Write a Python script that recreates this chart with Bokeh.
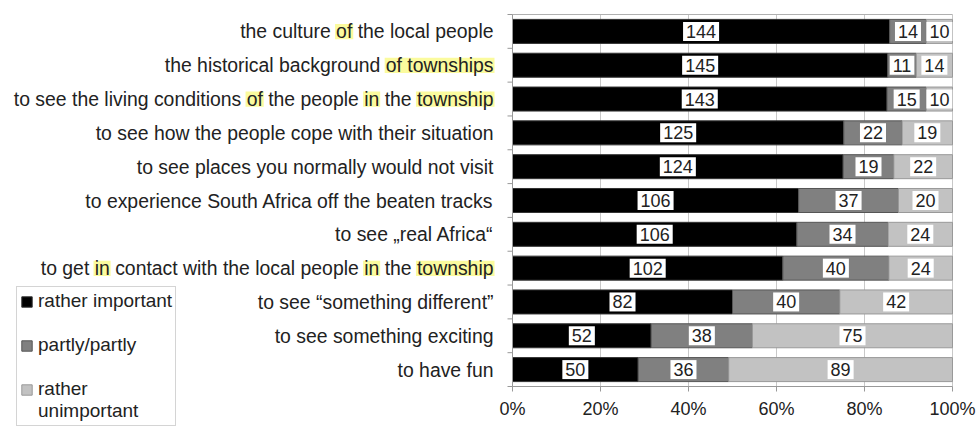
from bokeh.plotting import figure
from bokeh.models import Range1d, Legend, LegendItem
from bokeh.embed import file_html
from bokeh.resources import INLINE
from bokeh.core.properties import value

categories = [
    "the culture of the local people",
    "the historical background of townships",
    "to see the living conditions of the people in the township",
    "to see how the people cope with their situation",
    "to see places you normally would not visit",
    "to experience South Africa off the beaten tracks",
    "to see \u201ereal Africa\u201c",
    "to get in contact with the local people in the township",
    "to see \u201csomething different\u201d",
    "to see something exciting",
    "to have fun",
]
rather_important = [144, 145, 143, 125, 124, 106, 106, 102, 82, 52, 50]
partly_partly = [14, 11, 15, 22, 19, 37, 34, 40, 40, 38, 36]
rather_unimportant = [10, 14, 10, 19, 22, 20, 24, 24, 42, 75, 89]
series_names = ["rather important", "partly/partly", "rather unimportant"]
x_ticks = [0, 0.2, 0.4, 0.6, 0.8, 1.0]
x_tick_labels = ["0%", "20%", "40%", "60%", "80%", "100%"]

# words highlighted (yellow marker) in the scanned original: (row, word, occurrence)
highlights = [(0, "of", 0), (1, "of townships", 0), (2, "of", 0), (2, "in", 1),
              (2, "township", 0), (7, "in", 0), (7, "in", 1), (7, "township", 0)]

FONT = "Liberation Sans"
fills = ["#000000", "#808080", "#c2c2c2"]
lines = ["#333333", "#555555", "#999999"]
AXIS = "#999999"
TXT = "#222222"

W, H = 979, 426
FL, FR, FT, FB = 512, 952, 14, 386  # plot-area edges in canvas px
LABEL_RIGHT = 493
YFS = 19.4

n = len(categories)
ypos = [n - 1 - i for i in range(n)]
series = [rather_important, partly_partly, rather_unimportant]
totals = [sum(v) for v in zip(*series)]
y0, y1 = -0.5, n - 0.5


def px_x(px):
    return (px - FL) / (FR - FL)


def px_y(py):
    return y0 + (FB - py) / (FB - FT) * (y1 - y0)


p = figure(width=W, height=H, output_backend="svg", toolbar_location=None,
           x_range=Range1d(px_x(0), px_x(W)), y_range=Range1d(px_y(H), px_y(0)),
           x_axis_location=None, y_axis_location=None, min_border=0)
p.xgrid.visible = False
p.ygrid.visible = False
p.outline_line_color = None

# yellow highlights behind some words of the category texts (Arial advance widths)
ARIAL = {" ": 278, "a": 556, "b": 556, "c": 500, "d": 556, "e": 556, "f": 278, "g": 556,
         "h": 556, "i": 222, "j": 222, "k": 500, "l": 222, "m": 833, "n": 556, "o": 556,
         "p": 556, "q": 556, "r": 333, "s": 500, "t": 278, "u": 556, "v": 500, "w": 722,
         "x": 500, "y": 500, "z": 500}


def tw(s):
    return sum(ARIAL.get(ch, 556) for ch in s) / 1000.0 * YFS


hl_l, hl_r, hl_b, hl_t = [], [], [], []
for row, word, occ in highlights:
    text = categories[row]
    idx = -1
    for _ in range(occ + 1):
        idx = text.find(word, idx + 1)
    if idx < 0:
        continue
    end = idx + len(word)
    hl_l.append(px_x(LABEL_RIGHT - tw(text[idx:]) - 1))
    hl_r.append(px_x(LABEL_RIGHT - tw(text[end:]) + 1))
    hl_b.append(ypos[row] - 0.23)
    hl_t.append(ypos[row] + 0.22)
p.quad(left=hl_l, right=hl_r, bottom=hl_b, top=hl_t, fill_color="#fbfb9e", line_color=None)

# vertical grid lines and top border
p.segment(x0=x_ticks, x1=x_ticks, y0=[y0] * len(x_ticks), y1=[y1] * len(x_ticks),
          line_color="#c8c8c8", line_width=1)
p.segment(x0=[0], x1=[1], y0=[y1], y1=[y1], line_color="#b0b0b0", line_width=1)

renderers = []
lefts = [0.0] * n
label_x, label_y, label_t = [], [], []
for vals, fc, lc in zip(series, fills, lines):
    frac = [v / t for v, t in zip(vals, totals)]
    rights = [l + f for l, f in zip(lefts, frac)]
    r = p.hbar(y=ypos, left=lefts, right=rights, height=0.71, fill_color=fc, line_color=lc, line_width=1)
    renderers.append(r)
    for i in range(n):
        label_x.append((lefts[i] + rights[i]) / 2)
        label_y.append(ypos[i])
        label_t.append(str(vals[i]))
    lefts = rights

p.text(x=label_x, y=label_y, text=label_t, text_align="center", text_baseline="middle",
       text_font=value(FONT), text_font_size="18px", text_color=TXT,
       background_fill_color="white", padding=3)

# y axis: line, boundary ticks, category texts
p.segment(x0=[0], x1=[0], y0=[y0], y1=[y1], line_color=AXIS, line_width=1)
bounds = [k - 0.5 for k in range(n + 1)]
p.segment(x0=[px_x(FL - 5)] * len(bounds), x1=[0] * len(bounds), y0=bounds, y1=bounds,
          line_color=AXIS, line_width=1)
p.text(x=[px_x(LABEL_RIGHT)] * n, y=ypos, text=categories, text_align="right",
       text_baseline="middle", text_font=value(FONT), text_font_size=f"{YFS}px", text_color=TXT)

# x axis: line, ticks, tick texts
p.segment(x0=[0], x1=[1], y0=[y0], y1=[y0], line_color=AXIS, line_width=1)
p.segment(x0=x_ticks, x1=x_ticks, y0=[y0] * len(x_ticks), y1=[px_y(FB + 5)] * len(x_ticks),
          line_color=AXIS, line_width=1)
p.text(x=x_ticks, y=[px_y(408)] * len(x_ticks), text=x_tick_labels, text_align="center",
       text_baseline="middle", text_font=value(FONT), text_font_size="18px", text_color=TXT)

# legend
blank = p.rect(x=[], y=[], width=[], height=[], fill_alpha=0, line_alpha=0)
items = [
    LegendItem(label=series_names[0], renderers=[renderers[0]]),
    LegendItem(label=" ", renderers=[blank]),
    LegendItem(label=series_names[1], renderers=[renderers[1]]),
    LegendItem(label=" ", renderers=[blank]),
    LegendItem(label=series_names[2].split(" ")[0], renderers=[renderers[2]]),
    LegendItem(label=series_names[2].split(" ")[1], renderers=[blank]),
]
legend = Legend(items=items, location=(16, 0),
                glyph_width=13, glyph_height=13, label_height=22, label_standoff=5,
                spacing=0, padding=3, margin=0,
                label_text_font=FONT, label_text_font_size="19px", label_text_color=TXT,
                border_line_color="#aaaaaa", border_line_width=1,
                background_fill_color="white", background_fill_alpha=1)
p.add_layout(legend)

open("out.html", "w").write(file_html(p, INLINE))
